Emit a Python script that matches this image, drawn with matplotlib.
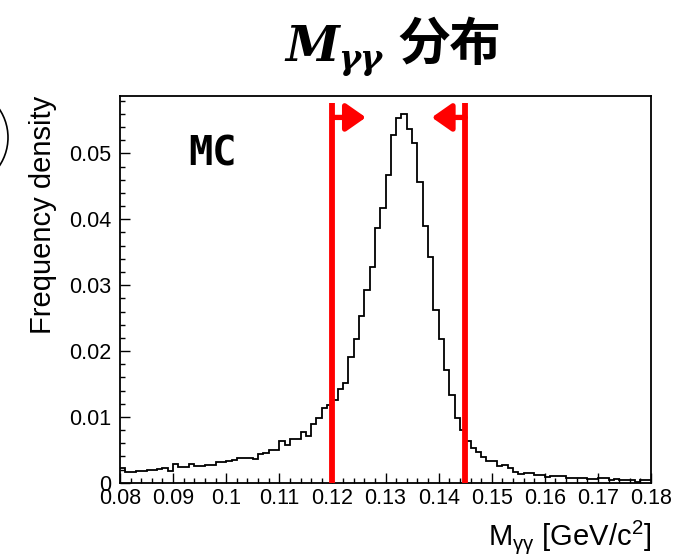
import numpy as np
import matplotlib
matplotlib.use('Agg')
import matplotlib.pyplot as plt
from matplotlib.patches import Arc
from matplotlib.ticker import MultipleLocator, FuncFormatter

plt.rcParams['font.family'] = ['Liberation Sans', 'DejaVu Sans']
plt.rcParams['mathtext.fontset'] = 'custom'
plt.rcParams['mathtext.rm'] = 'Liberation Sans'
plt.rcParams['mathtext.it'] = 'Liberation Sans:italic'

# histogram: 100 bins of 0.001 from 0.08 to 0.18
bin_lo = 0.08
bin_hi = 0.18
density = [
    0.0022, 0.0017, 0.0017, 0.0018, 0.0018, 0.0019, 0.0020, 0.0021, 0.0023, 0.0018,
    0.0029, 0.0024, 0.0024, 0.0028, 0.0025, 0.0025, 0.0027, 0.0027, 0.0031, 0.0031,
    0.0033, 0.0034, 0.0037, 0.0037, 0.0038, 0.0036, 0.0044, 0.0046, 0.0050, 0.0050,
    0.0063, 0.0057, 0.0066, 0.0066, 0.0077, 0.0071, 0.0090, 0.0098, 0.0113, 0.0118,
    0.0125, 0.0142, 0.0151, 0.0191, 0.0219, 0.0253, 0.0293, 0.0328, 0.0386, 0.0417,
    0.0467, 0.0528, 0.0553, 0.0560, 0.0537, 0.0516, 0.0457, 0.0390, 0.0342, 0.0263,
    0.0218, 0.0171, 0.0133, 0.0099, 0.0080, 0.0063, 0.0053, 0.0047, 0.0039, 0.0033,
    0.0033, 0.0025, 0.0027, 0.0022, 0.0017, 0.0013, 0.0015, 0.0015, 0.0012, 0.0012,
    0.0009, 0.0011, 0.0011, 0.0011, 0.0008, 0.0008, 0.0007, 0.0007, 0.0006, 0.0006,
    0.0007, 0.0007, 0.0004, 0.0006, 0.0005, 0.0005, 0.0005, 0.0002, 0.0004, 0.0004,
]
edges = np.linspace(bin_lo, bin_hi, len(density) + 1)

# mass window cuts
cut_lo = 0.120
cut_hi = 0.145
arrow_tip_lo = 0.1263
arrow_tip_hi = 0.1387

fig = plt.figure(figsize=(6.74, 5.55), dpi=100)
ax = fig.add_axes([0.178, 0.130, 0.788, 0.697])

ax.stairs(density, edges, color='black', lw=1.3, baseline=None)

# cut lines and arrows
ax.vlines([cut_lo, cut_hi], 0, 0.0577, color='red', lw=4.2, zorder=3)
arrow_y = 0.05545
for x0, x1 in [(cut_lo, arrow_tip_lo), (cut_hi, arrow_tip_hi)]:
    ax.annotate('', xy=(x1, arrow_y), xytext=(x0, arrow_y),
                arrowprops=dict(arrowstyle='-|>,head_length=0.6,head_width=0.42',
                                color='red', lw=3.8, shrinkA=0, shrinkB=0,
                                mutation_scale=20), zorder=3)

ax.set_xlim(bin_lo, bin_hi)
ax.set_ylim(0, 0.0587)

ax.xaxis.set_major_locator(MultipleLocator(0.01))
ax.xaxis.set_minor_locator(MultipleLocator(0.002))
ax.yaxis.set_major_locator(MultipleLocator(0.01))
ax.yaxis.set_minor_locator(MultipleLocator(0.002))
fmt = FuncFormatter(lambda v, p: '{:g}'.format(round(v, 4)))
ax.xaxis.set_major_formatter(fmt)
ax.yaxis.set_major_formatter(fmt)

ax.tick_params(which='both', direction='in', top=False, right=False, width=1.0, labelsize=15.5)
ax.tick_params(which='major', length=7.5)
ax.tick_params(which='minor', length=3.8)
ax.tick_params(axis='x', pad=4)
ax.tick_params(axis='y', pad=6)
for s in ax.spines.values():
    s.set_linewidth(1.3)

ax.set_xlabel(r'M$_{\mathrm{\gamma\gamma}}$ [GeV/c$^{2}$]', fontsize=21, loc='right', labelpad=6)
ax.set_ylabel('Frequency density', fontsize=21, loc='top', labelpad=9)

ax.text(0.128, 0.82, 'MC', transform=ax.transAxes, fontsize=29,
        fontfamily='DejaVu Sans Mono', fontweight='bold')

# overlay in pixel coordinates for the slide title and the cut-off circle
ov = fig.add_axes([0, 0, 1, 1], facecolor='none')
ov.set_xlim(0, 674)
ov.set_ylim(555, 0)
ov.axis('off')
ov.text(285, 61, 'M', fontsize=35, fontfamily='DejaVu Serif', fontweight='bold',
        fontstyle='italic', ha='left', va='baseline')
ov.text(338, 69, 'γγ', fontsize=24, fontfamily='DejaVu Serif', fontweight='bold',
        fontstyle='italic', ha='left', va='baseline')
ov.text(398, 60, '分布', fontsize=37, fontfamily='Noto Sans CJK JP', fontweight='bold',
        ha='left', va='baseline')
ov.add_patch(Arc((-43, 137.5), 102, 102, theta1=-40, theta2=40, color='black', lw=1.2))

fig.savefig('out.png', dpi=100)
